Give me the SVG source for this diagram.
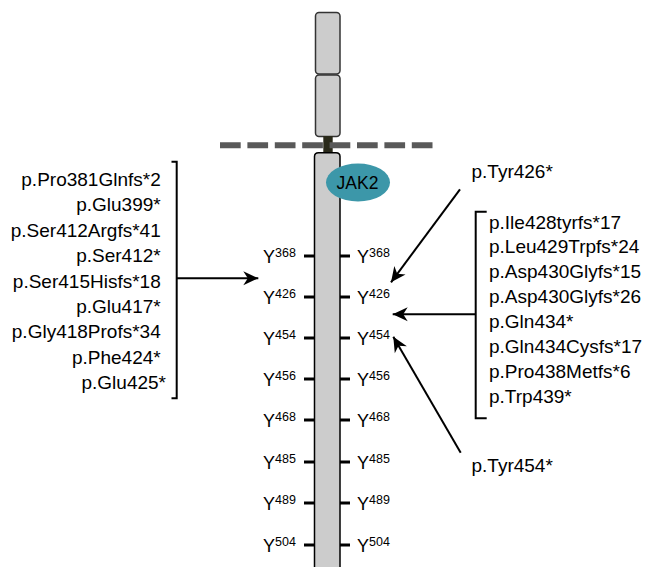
<svg xmlns="http://www.w3.org/2000/svg" width="649" height="567" viewBox="0 0 649 567">
<defs>
<style>
.t{font-family:"Liberation Sans",Arial,sans-serif;font-size:19px;fill:#000}
.lbl text{font-family:"Liberation Sans",Arial,sans-serif;fill:#000}
.br{fill:none;stroke:#000;stroke-width:2}
.ar{fill:none;stroke:#000;stroke-width:2}
.tk{stroke:#000;stroke-width:3}
.seg{fill:#cccccc;stroke:#333;stroke-width:1.5}
</style>
<marker id="ah" markerUnits="userSpaceOnUse" markerWidth="18" markerHeight="18" viewBox="-16 -9 18 18" refX="0" refY="0" orient="auto">
<path d="M-15,-7 L0,0 L-15,7 L-10.5,0 Z" fill="#000"/>
</marker>
</defs>
<rect width="649" height="567" fill="#fff"/>
<g id="receptor">
<rect class="seg" x="315.5" y="12.5" width="24.5" height="61.5" rx="3.5"/>
<rect class="seg" x="315.5" y="75" width="24.5" height="61.5" rx="3.5"/>
<rect x="323.3" y="136" width="9.4" height="18" fill="#2a2a1a"/>
<path d="M314.5,580 L314.5,156.5 Q314.5,152.7 318.5,152.7 L336,152.7 Q340,152.7 340,156.5 L340,580" fill="#cccccc" stroke="#000" stroke-width="1.5"/>
</g>
<g id="membrane">
<line x1="220" y1="145.3" x2="434" y2="145.3" stroke="#595959" stroke-width="6" stroke-dasharray="20.7 6.7"/>
</g>
<g id="jak2">
<ellipse cx="358" cy="182.5" rx="32" ry="19" fill="#3c97a9"/>
<text x="357.5" y="189" text-anchor="middle" font-family="Liberation Sans, Arial, sans-serif" font-size="17.5" fill="#000">JAK2</text>
</g>
<g id="ticks">
<line class="tk" x1="304" y1="256" x2="314" y2="256"/><line class="tk" x1="340" y1="256" x2="350" y2="256"/>
<line class="tk" x1="304" y1="297" x2="314" y2="297"/><line class="tk" x1="340" y1="297" x2="350" y2="297"/>
<line class="tk" x1="304" y1="338" x2="314" y2="338"/><line class="tk" x1="340" y1="338" x2="350" y2="338"/>
<line class="tk" x1="304" y1="379" x2="314" y2="379"/><line class="tk" x1="340" y1="379" x2="350" y2="379"/>
<line class="tk" x1="304" y1="420" x2="314" y2="420"/><line class="tk" x1="340" y1="420" x2="350" y2="420"/>
<line class="tk" x1="304" y1="462" x2="314" y2="462"/><line class="tk" x1="340" y1="462" x2="350" y2="462"/>
<line class="tk" x1="304" y1="503" x2="314" y2="503"/><line class="tk" x1="340" y1="503" x2="350" y2="503"/>
<line class="tk" x1="304" y1="545" x2="314" y2="545"/><line class="tk" x1="340" y1="545" x2="350" y2="545"/>
</g>
<g id="tyr-left" class="lbl">
<text x="263" y="263" font-size="18">Y<tspan font-size="12.5" dy="-6">368</tspan></text>
<text x="263" y="304" font-size="18">Y<tspan font-size="12.5" dy="-6">426</tspan></text>
<text x="263" y="345" font-size="18">Y<tspan font-size="12.5" dy="-6">454</tspan></text>
<text x="263" y="386" font-size="18">Y<tspan font-size="12.5" dy="-6">456</tspan></text>
<text x="263" y="427" font-size="18">Y<tspan font-size="12.5" dy="-6">468</tspan></text>
<text x="263" y="469" font-size="18">Y<tspan font-size="12.5" dy="-6">485</tspan></text>
<text x="263" y="510" font-size="18">Y<tspan font-size="12.5" dy="-6">489</tspan></text>
<text x="263" y="552" font-size="18">Y<tspan font-size="12.5" dy="-6">504</tspan></text>
</g>
<g id="tyr-right" class="lbl">
<text x="357" y="263" font-size="18">Y<tspan font-size="12.5" dy="-6">368</tspan></text>
<text x="357" y="304" font-size="18">Y<tspan font-size="12.5" dy="-6">426</tspan></text>
<text x="357" y="345" font-size="18">Y<tspan font-size="12.5" dy="-6">454</tspan></text>
<text x="357" y="386" font-size="18">Y<tspan font-size="12.5" dy="-6">456</tspan></text>
<text x="357" y="427" font-size="18">Y<tspan font-size="12.5" dy="-6">468</tspan></text>
<text x="357" y="469" font-size="18">Y<tspan font-size="12.5" dy="-6">485</tspan></text>
<text x="357" y="510" font-size="18">Y<tspan font-size="12.5" dy="-6">489</tspan></text>
<text x="357" y="552" font-size="18">Y<tspan font-size="12.5" dy="-6">504</tspan></text>
</g>
<g id="left-group">
<path class="br" d="M171.5,161.7 L176.7,161.7 L176.7,398.3 L171.5,398.3"/>
<text class="t" text-anchor="end" x="166">
<tspan x="166" y="186">p.Pro381Glnfs*2</tspan>
<tspan x="166" y="211.4">p.Glu399*</tspan>
<tspan x="166" y="236.8">p.Ser412Argfs*41</tspan>
<tspan x="166" y="262.2">p.Ser412*</tspan>
<tspan x="166" y="287.6">p.Ser415Hisfs*18</tspan>
<tspan x="166" y="313">p.Glu417*</tspan>
<tspan x="166" y="338.4">p.Gly418Profs*34</tspan>
<tspan x="166" y="363.8">p.Phe424*</tspan>
<tspan x="166" y="389.2">p.Glu425*</tspan>
</text>
</g>
<g id="right-group">
<path class="br" d="M486.7,211.7 L475.7,211.7 L475.7,418.3 L486.7,418.3"/>
<text class="t" x="489">
<tspan x="489" y="228.5">p.Ile428tyrfs*17</tspan>
<tspan x="489" y="253.4">p.Leu429Trpfs*24</tspan>
<tspan x="489" y="278.3">p.Asp430Glyfs*15</tspan>
<tspan x="489" y="303.2">p.Asp430Glyfs*26</tspan>
<tspan x="489" y="328.1">p.Gln434*</tspan>
<tspan x="489" y="353">p.Gln434Cysfs*17</tspan>
<tspan x="489" y="377.9">p.Pro438Metfs*6</tspan>
<tspan x="489" y="402.8">p.Trp439*</tspan>
</text>
</g>
<g id="tyr426-label"><text class="t" x="471.5" y="178">p.Tyr426*</text></g>
<g id="tyr454-label"><text class="t" x="471.5" y="472">p.Tyr454*</text></g>
<g id="connectors">
<line class="ar" x1="176.7" y1="278.3" x2="258.3" y2="278.3" marker-end="url(#ah)"/>
<line class="ar" x1="475.7" y1="314.3" x2="392.7" y2="314.3" marker-end="url(#ah)"/>
<line class="ar" x1="460" y1="189.3" x2="391" y2="282.3" marker-end="url(#ah)"/>
<line class="ar" x1="460.7" y1="452.7" x2="393.3" y2="336.7" marker-end="url(#ah)"/>
</g>
</svg>
